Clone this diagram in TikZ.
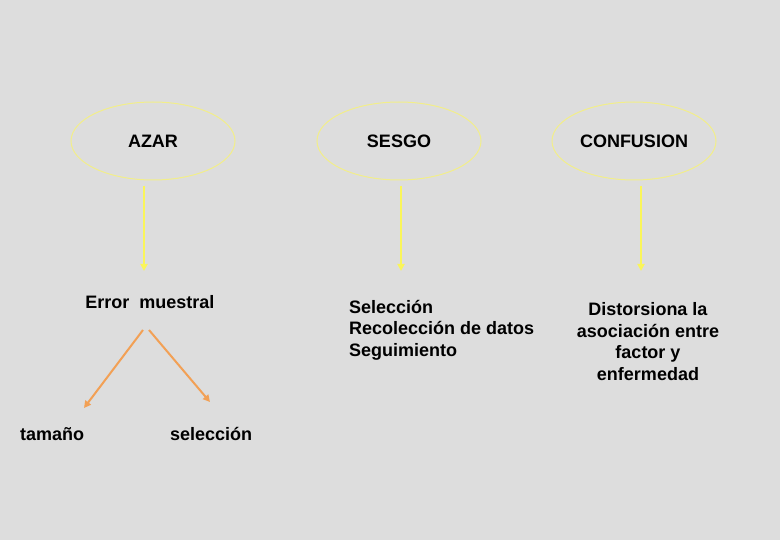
\documentclass[tikz,border=0pt]{standalone}
\usepackage{fontspec}
\setmainfont{Liberation Sans}
\usetikzlibrary{shapes.geometric,arrows.meta}
\definecolor{bg}{HTML}{DDDDDD}
\definecolor{ellyel}{HTML}{F2EE8A}
\definecolor{arryel}{HTML}{FAF55A}
\definecolor{arrorg}{HTML}{F2A055}
\tikzset{
  x=1pt,y=-1pt,
  lbl/.style={font=\fontsize{18}{21.5}\selectfont\bfseries, text=black, inner sep=0pt},
  oval/.style={ellipse, draw=ellyel, line width=1pt, minimum width=164pt, minimum height=78pt, inner sep=0pt},
  yarr/.style={draw=arryel, line width=2pt, -{Triangle[width=7pt,length=7pt]}},
  oarr/.style={draw=arrorg, line width=2pt, -{Triangle[width=7pt,length=7pt]}},
}
\begin{document}
\begin{tikzpicture}
\fill[bg] (0,0) rectangle (780,540);
\useasboundingbox (0,0) rectangle (780,540);
% ellipses
\node[oval] (azar) at (153,141) {};
\node[lbl] (azart) at (153,141) {AZAR};
\node[oval] (sesgo) at (399,141) {};
\node[lbl] (sesgot) at (399,141) {SESGO};
\node[oval] (conf) at (634,141) {};
\node[lbl] (conft) at (634,141) {CONFUSION};
% coordinates for arrows
\coordinate (a1) at (144,186);
\coordinate (a2) at (144,271);
\coordinate (s1) at (401,186);
\coordinate (s2) at (401,271);
\coordinate (c1) at (641,186);
\coordinate (c2) at (641,271);
\draw[yarr] (a1) -- (a2);
\draw[yarr] (s1) -- (s2);
\draw[yarr] (c1) -- (c2);
% texts
\node[lbl] (error) at (150,302) {Error\ \ muestral};
\node[lbl, anchor=west, align=left] (sesgotx) at (349,330) {Selección\\Recolección de datos\\Seguimiento};
\node[lbl, align=center] (conftx) at (648,341.5) {Distorsiona la\\asociación entre\\factor y\\enfermedad};
\node[lbl, anchor=west] (tam) at (20,434) {tamaño};
\node[lbl, anchor=west] (sel) at (170,434) {selección};
% orange arrows
\coordinate (o1) at (143,330);
\coordinate (o2) at (84,408);
\coordinate (o3) at (149,330);
\coordinate (o4) at (210,402);
\draw[oarr] (o1) -- (o2);
\draw[oarr] (o3) -- (o4);
\end{tikzpicture}
\end{document}
